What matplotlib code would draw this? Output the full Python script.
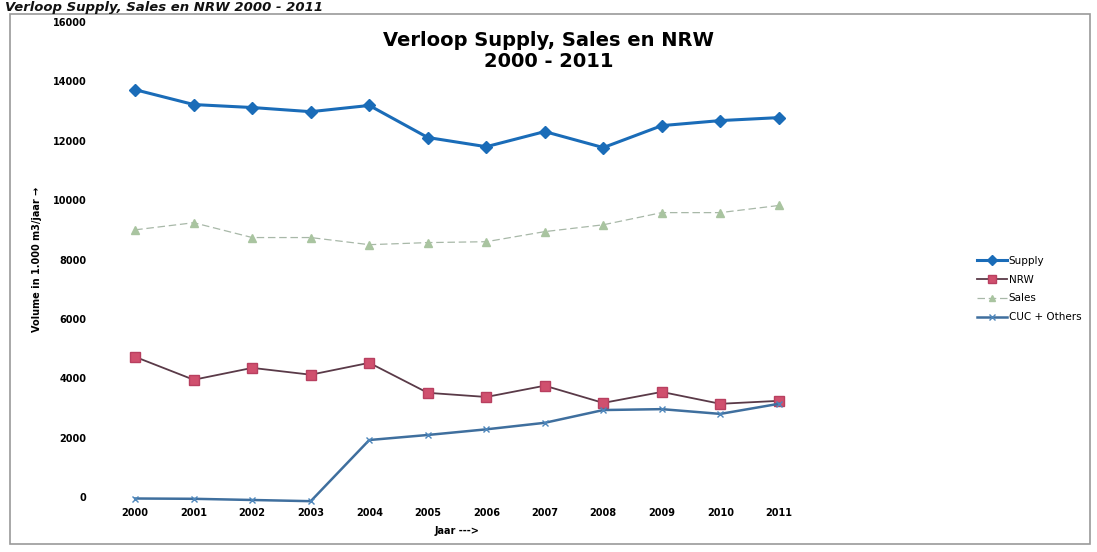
import matplotlib.pyplot as plt
from matplotlib.patches import Rectangle

years = [2000, 2001, 2002, 2003, 2004, 2005, 2006, 2007, 2008, 2009, 2010, 2011]
supply = [13720, 13220, 13120, 12980, 13190, 12110, 11800, 12310, 11770, 12510, 12680, 12780]
nrw = [4720, 3950, 4350, 4120, 4520, 3510, 3370, 3750, 3170, 3540, 3140, 3240]
sales = [9000, 9240, 8740, 8740, 8500, 8570, 8600, 8940, 9170, 9580, 9580, 9820]
cuc = [-50, -60, -100, -140, 1920, 2090, 2280, 2500, 2930, 2960, 2800, 3140]
y_ticks = [0, 2000, 4000, 6000, 8000, 10000, 12000, 14000, 16000]

fig = plt.figure(figsize=(10.97, 5.52), dpi=100)

# frame around the whole chart
fig.patches.append(Rectangle((0.009, 0.015), 0.985, 0.96, transform=fig.transFigure,
                             fill=False, edgecolor='#9a9a9a', linewidth=1.2))
fig.text(0.005, 0.999, "Verloop Supply, Sales en NRW 2000 - 2011", fontsize=9.5,
         fontstyle='italic', fontweight='bold', va='top', ha='left', color='#111111')

ax = fig.add_axes([0.0966, 0.0996, 0.640, 0.8605])
x = list(range(len(years)))

ax.plot(x, supply, color='#1a6cb8', linewidth=2.2, marker='D', markersize=6, label='Supply')
ax.plot(x, nrw, color='#5a3a48', linewidth=1.3, marker='s', markersize=7,
        markerfacecolor='#d0506e', markeredgecolor='#b84060', label='NRW')
ax.plot(x, sales, color='#a8b8a8', linewidth=0.9, linestyle=(0, (6, 3)), marker='^', markersize=6,
        markerfacecolor='#a9c4a0', markeredgecolor='#a9c4a0', label='Sales')
ax.plot(x, cuc, color='#3f6f9e', linewidth=1.8, marker='x', markersize=5,
        markeredgecolor='#4d86bb', label='CUC + Others')

ax.set_xlim(-0.5, len(years) - 0.5)
ax.set_ylim(0, 16000)
ax.set_xticks(x)
ax.set_xticklabels([str(y) for y in years], fontsize=7, fontweight='bold')
ax.set_yticks(y_ticks)
ax.set_yticklabels([str(v) for v in y_ticks], fontsize=7, fontweight='bold')
ax.tick_params(length=0, pad=14)
ax.tick_params(axis='x', pad=8)
for s in ax.spines.values():
    s.set_visible(False)
for line in ax.get_lines():
    line.set_clip_on(False)

ax.set_ylabel("Volume in 1.000 m3/jaar \u2192", fontsize=7, fontweight='bold', labelpad=8)
ax.set_xlabel("Jaar --->", fontsize=7, fontweight='bold', labelpad=6)

fig.text(0.5, 0.908, "Verloop Supply, Sales en NRW\n2000 - 2011", fontsize=14,
         fontweight='bold', ha='center', va='center', linespacing=1.1)

ax.legend(loc='center left', bbox_to_anchor=(1.228, 0.438), frameon=False, fontsize=7.5,
          handlelength=2.8, labelspacing=0.85, handletextpad=0.2, markerscale=0.8)

fig.savefig('out.png', dpi=100)
